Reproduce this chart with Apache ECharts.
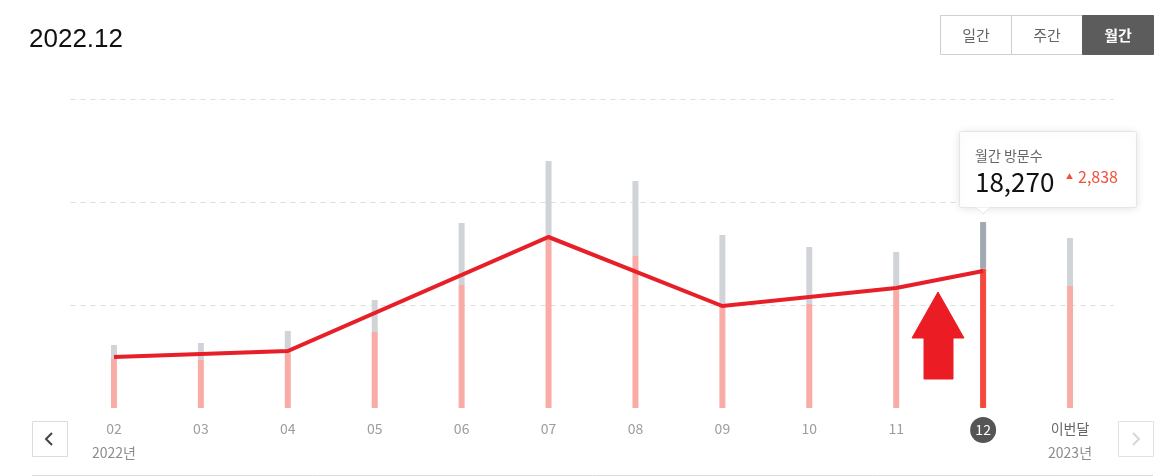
<!DOCTYPE html>
<html>
<head>
<meta charset="utf-8">
<script src="https://cdn.jsdelivr.net/npm/echarts@6/dist/echarts.min.js"></script>
<style>
html,body{margin:0;padding:0;background:#fff;}
#chart{width:1170px;height:476px;}
</style>
</head>
<body>
<div id="chart"></div>
<script>
// ---- data ----
const categories = ['02','03','04','05','06','07','08','09','10','11','12','이번달'];
const visits = [6420, 6290, 7210, 9960, 16120, 22410, 19920, 13500, 13630, 15432, 18270, 15990];
const extraViews = [1840, 2230, 2880, 4200, 8130, 9960, 9830, 9180, 7470, 5020, 6110, 6290];
const annotationLine = [6680, null, 7470, null, null, 22410, null, 13370, null, 15730, 17960, null];
const yearLabels = { '02': '2022년', '이번달': '2023년' };
const periodButtons = ['일간', '주간', '월간'];
const activePeriod = '월간';
const selectedIndex = 10;
const pageTitle = '2022.12';
const tooltipTitle = '월간 방문수';

const FONT = '"Noto Sans CJK KR", "Noto Sans", sans-serif';
const chart = echarts.init(document.getElementById('chart'), null, { renderer: 'canvas' });

const pinkData = visits.map((v, i) => i === selectedIndex
  ? { value: v, itemStyle: { color: '#f5473c', borderColor: '#f5473c', borderWidth: 1 } }
  : v);
const grayData = extraViews.map((v, i) => i === selectedIndex
  ? { value: v, itemStyle: { color: '#a0a8b1', borderColor: '#a0a8b1', borderWidth: 1 } }
  : v);

const selVal = visits[selectedIndex];
const diff = visits[selectedIndex] - visits[selectedIndex - 1];

function txt(x, y, text, font, fill, align, z) {
  return { type: 'text', x: x, y: y, z: z || 5, style: { text: text, font: font, fill: fill, align: align || 'left', verticalAlign: 'middle' } };
}

const graphics = [
  txt(29, 40, pageTitle, '26px "Liberation Sans", Arial, sans-serif', '#111'),
  // bottom line
  { type: 'line', shape: { x1: 32, y1: 475.5, x2: 1153, y2: 475.5 }, style: { stroke: '#dcdcdc', lineWidth: 1 } },
  // nav boxes
  { type: 'rect', shape: { x: 32.5, y: 421.5, width: 35, height: 35 }, style: { fill: '#fff', stroke: '#dcdcdc', lineWidth: 1 } },
  { type: 'polyline', shape: { points: [[52, 433], [46, 439], [52, 445]] }, style: { stroke: '#444', lineWidth: 2, fill: null } },
  { type: 'rect', shape: { x: 1118.5, y: 421.5, width: 35, height: 35 }, style: { fill: '#fff', stroke: '#e2e2e2', lineWidth: 1 } },
  { type: 'polyline', shape: { points: [[1133, 433], [1139, 439], [1133, 445]] }, style: { stroke: '#d6d6d6', lineWidth: 2, fill: null } },
  // arrow annotation
  { type: 'polygon', z: 20, shape: { points: [[938, 292], [964, 338], [953, 338], [953, 379], [924, 379], [924, 338], [912, 338]] }, style: { fill: '#ec1c24', stroke: '#ec1c24', lineWidth: 1, lineJoin: 'round' } },
  // tooltip
  { type: 'rect', z: 30, shape: { x: 959.5, y: 131.5, width: 177, height: 76, r: 2 }, style: { fill: '#fff', stroke: '#e6e6e6', lineWidth: 1, shadowBlur: 8, shadowColor: 'rgba(0,0,0,0.10)', shadowOffsetY: 1 } },
  { type: 'polygon', z: 31, shape: { points: [[976, 207], [990, 207], [983, 214]] }, style: { fill: '#fff', stroke: '#e6e6e6', lineWidth: 1 } },
  { type: 'rect', z: 32, shape: { x: 975, y: 204, width: 16, height: 3 }, style: { fill: '#fff' } },
  txt(975, 156, tooltipTitle, '14px ' + FONT, '#666', 'left', 33),
  txt(975, 182, selVal.toLocaleString('en-US'), '26px ' + FONT, '#111', 'left', 33),
  txt(1066, 176, '▲', '7px ' + FONT, '#f0503c', 'left', 33),
  txt(1078, 177, diff.toLocaleString('en-US'), '16px ' + FONT, '#f0503c', 'left', 33)
];

// period buttons
periodButtons.forEach((b, i) => {
  const x = 940.5 + i * 71;
  const active = b === activePeriod;
  graphics.push({ type: 'rect', shape: { x: x, y: 15.5, width: 71, height: 39 }, style: { fill: active ? '#5c5c5c' : '#fff', stroke: active ? '#5c5c5c' : '#cfcfcf', lineWidth: 1 } });
  graphics.push(txt(x + 35.5, 35, b, (active ? 'bold ' : '') + '15px ' + FONT, active ? '#fff' : '#666', 'center', 6));
});

chart.setOption({
  animation: false,
  backgroundColor: '#fff',
  grid: { left: 70.5, right: 56.5, top: 99, bottom: 68 },
  xAxis: {
    type: 'category',
    data: categories,
    axisLine: { show: false },
    axisTick: { show: false },
    axisLabel: {
      margin: 9,
      interval: 0,
      formatter: (v, idx) => {
        if (idx === selectedIndex) return '{badge|' + v + '}';
        const style = v === '이번달' ? 'cur' : 'm';
        let s = '{' + style + '|' + v + '}';
        if (yearLabels[v]) s += '\n{year|' + yearLabels[v] + '}';
        return s;
      },
      rich: {
        m: { fontSize: 14, color: '#9d9d9d', lineHeight: 24, fontFamily: FONT },
        cur: { fontSize: 14, color: '#666', lineHeight: 24, fontFamily: FONT },
        year: { fontSize: 14, color: '#8c8c8c', lineHeight: 24, fontFamily: FONT },
        badge: { fontSize: 14, color: '#fff', backgroundColor: '#555', borderRadius: 13, width: 26, height: 26, lineHeight: 26, align: 'center', fontFamily: FONT }
      }
    }
  },
  yAxis: {
    type: 'value',
    min: 0, max: 40500, interval: 13500,
    axisLabel: { show: false },
    axisLine: { show: false },
    axisTick: { show: false },
    splitLine: { show: true, showMinLine: false, lineStyle: { color: '#dedede', type: [5, 5], width: 1 } }
  },
  series: [
    { type: 'bar', name: '방문수', stack: 's', barWidth: 6, data: pinkData, itemStyle: { color: '#f9aca5' }, z: 2 },
    { type: 'bar', name: '조회수', stack: 's', barWidth: 6, data: grayData, itemStyle: { color: '#d0d4d8' }, z: 2 },
    { type: 'line', name: 'annotation', data: annotationLine, connectNulls: true, symbol: 'none', lineStyle: { color: '#e61f29', width: 4, cap: 'butt', join: 'miter' }, z: 10 }
  ],
  graphic: graphics
});
</script>
</body>
</html>
